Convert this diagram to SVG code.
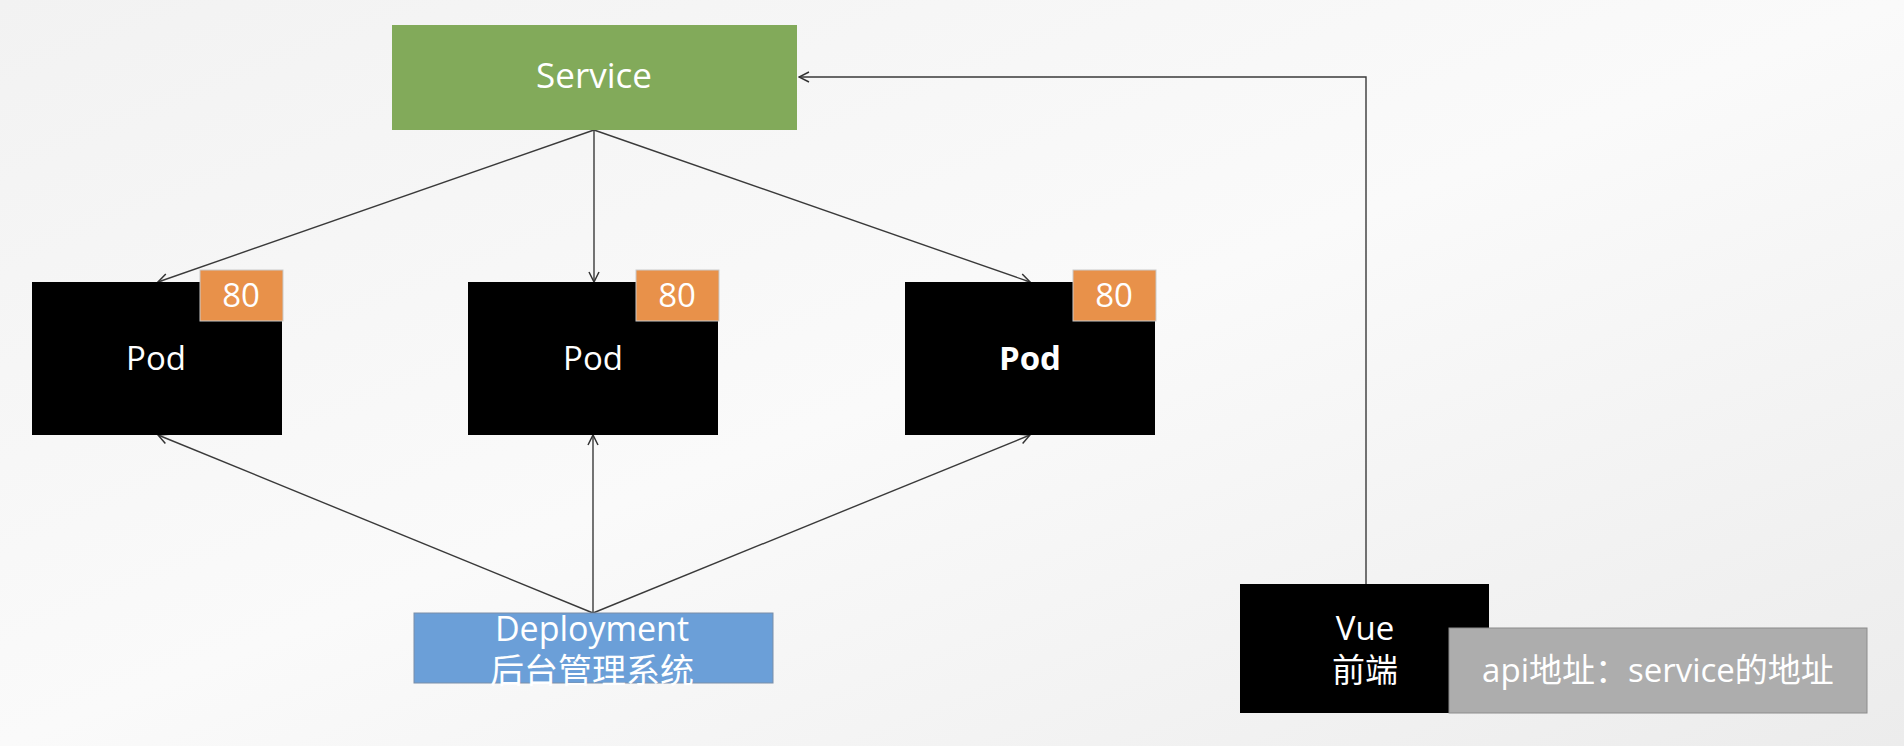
<svg xmlns="http://www.w3.org/2000/svg" width="1904" height="746" viewBox="0 0 1904 746">
<defs>
<linearGradient id="bg" x1="0" y1="0" x2="1" y2="1">
<stop offset="0" stop-color="#f2f2f2"/>
<stop offset="0.5" stop-color="#fafafa"/>
<stop offset="1" stop-color="#ececec"/>
</linearGradient>
<marker id="ah" viewBox="0 0 12 12" refX="11" refY="6" markerWidth="12" markerHeight="12" markerUnits="userSpaceOnUse" orient="auto">
<path d="M1,1 L11,6 L1,11" fill="none" stroke="#333" stroke-width="1.5"/>
</marker>
<style>
.t{font-family:"Open Sans","Noto Sans CJK SC",sans-serif;fill:#fff;text-anchor:middle}
.c{stroke:#3a3a3a;stroke-width:1.4;fill:none;marker-end:url(#ah)}
.pod{fill:#000}
.port{fill:#e8914a;stroke:#c9c9c9;stroke-width:1}
</style>
</defs>
<rect width="1904" height="746" fill="url(#bg)"/>
<g id="connectors">
<line class="c" x1="594" y1="130" x2="158" y2="282"/>
<line class="c" x1="594" y1="130" x2="594" y2="282"/>
<line class="c" x1="594" y1="130" x2="1030" y2="282"/>
<line class="c" x1="593" y1="613" x2="158" y2="435"/>
<line class="c" x1="593" y1="613" x2="593" y2="435"/>
<line class="c" x1="593" y1="613" x2="1030" y2="435"/>
<polyline class="c" points="1366,584 1366,77 799,77"/>
</g>
<g id="service">
<rect x="392" y="25" width="405" height="105" fill="#82aa5a"/>
<text class="t" x="594" y="88" font-size="35">Service</text>
</g>
<g id="pod1">
<rect class="pod" x="32" y="282" width="250" height="153"/>
<rect class="port" x="200" y="270" width="83" height="51"/>
<text class="t" x="241" y="307" font-size="33">80</text>
<text class="t" x="156" y="370" font-size="33">Pod</text>
</g>
<g id="pod2">
<rect class="pod" x="468" y="282" width="250" height="153"/>
<rect class="port" x="636" y="270" width="83" height="51"/>
<text class="t" x="677" y="307" font-size="33">80</text>
<text class="t" x="593" y="370" font-size="33">Pod</text>
</g>
<g id="pod3">
<rect class="pod" x="905" y="282" width="250" height="153"/>
<rect class="port" x="1073" y="270" width="83" height="51"/>
<text class="t" x="1114" y="307" font-size="33">80</text>
<text class="t" x="1030" y="370" font-size="33" font-weight="bold">Pod</text>
</g>
<g id="deployment">
<rect x="414" y="613" width="359" height="70" fill="#6b9fd8" stroke="#7a8ea8" stroke-width="1"/>
<text class="t" x="592" y="641" font-size="34">Deployment</text>
<text class="t" x="592" y="683" font-size="34">后台管理系统</text>
</g>
<g id="vue">
<rect x="1240" y="584" width="249" height="129" fill="#000"/>
<text class="t" x="1365" y="640" font-size="33">Vue</text>
<text class="t" x="1365" y="682" font-size="33">前端</text>
</g>
<g id="api-note">
<rect x="1449" y="628" width="418" height="85" fill="#adadad" stroke="#8c8c8c" stroke-width="1"/>
<text class="t" x="1658" y="682" font-size="33">api地址：service的地址</text>
</g>
</svg>
